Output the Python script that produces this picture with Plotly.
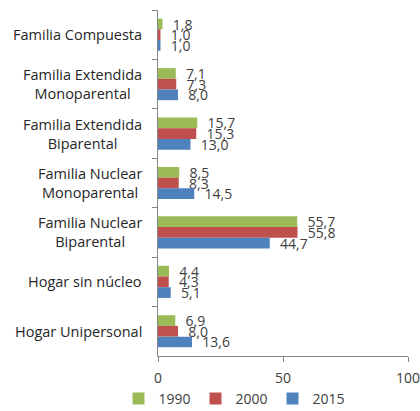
import plotly.graph_objects as go

categories = ["Familia Compuesta", "Familia Extendida<br>Monoparental", "Familia Extendida<br>Biparental",
              "Familia Nuclear<br>Monoparental", "Familia Nuclear<br>Biparental", "Hogar sin núcleo",
              "Hogar Unipersonal"]
years = ["1990", "2000", "2015"]
v1990 = [1.8, 7.1, 15.7, 8.5, 55.7, 4.4, 6.9]
v2000 = [1.0, 7.3, 15.3, 8.3, 55.8, 4.3, 8.0]
v2015 = [1.0, 8.0, 13.0, 14.5, 44.7, 5.1, 13.6]
x_ticks = [0, 50, 100]

colors = ["#9BBB59", "#C0504D", "#4F81BD"]
FONT = "Open Sans"

fig = go.Figure()
for name, vals, c in zip(years, [v1990, v2000, v2015], colors):
    fig.add_trace(go.Bar(
        y=categories, x=vals, name=name, orientation="h",
        marker=dict(color=c, line=dict(width=0)),
        text=vals, texttemplate="  %{x:.1f}", textposition="outside",
        textfont=dict(family=FONT, size=14, color="#404040"),
        constraintext="none", cliponaxis=False,
    ))

for cat in categories:
    fig.add_annotation(x=0, xref="paper", y=cat, yref="y", text=cat, showarrow=False,
                       xanchor="right", yanchor="middle", align="center", xshift=-14,
                       font=dict(family=FONT, size=14.5, color="#262626"))

fig.update_layout(
    template="none",
    width=420, height=411,
    margin=dict(l=158, r=12, t=10, b=55),
    paper_bgcolor="white", plot_bgcolor="white",
    barmode="group", bargap=0.35, bargroupgap=0,
    separators=",.",
    font=dict(family=FONT, size=14, color="#404040"),
    showlegend=True,
    legend=dict(orientation="h", x=0.304, xanchor="center",
                yref="container", y=1 - 399 / 411, yanchor="middle",
                font=dict(family=FONT, size=14, color="#404040"),
                entrywidth=32, itemwidth=30, tracegroupgap=0,
                bgcolor="rgba(0,0,0,0)", borderwidth=0),
    xaxis=dict(range=[0, 100], tickvals=x_ticks, showgrid=False, zeroline=False,
               showline=True, linecolor="#868686", linewidth=1, automargin=False,
               ticks="outside", ticklen=5, tickcolor="#868686", tickwidth=1,
               ticklabelstandoff=4, ticklabeloverflow="allow",
               tickfont=dict(family=FONT, size=14, color="#404040")),
    yaxis=dict(autorange="reversed", showgrid=False, zeroline=False, automargin=False,
               showline=True, linecolor="#868686", linewidth=1,
               ticks="outside", ticklen=5, tickcolor="#868686", tickwidth=1,
               tickson="boundaries", showticklabels=False),
)

fig.write_html("out.html", config={"displayModeBar": False},
               post_script="document.body.style.margin='0';document.body.style.overflow='hidden';")
